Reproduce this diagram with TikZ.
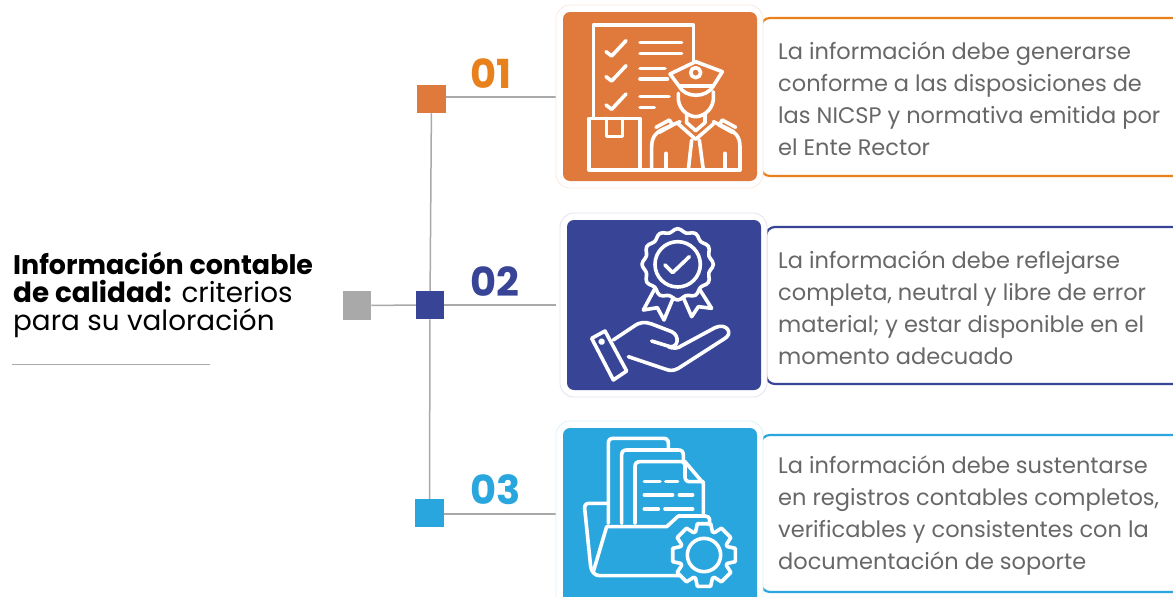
\documentclass[tikz,border=0pt]{standalone}
\usepackage{fontspec}
\setmainfont{Poppins}
\definecolor{cOr}{HTML}{E07A3C}
\definecolor{cOrT}{HTML}{E8801C}
\definecolor{cBl}{HTML}{384596}
\definecolor{cSk}{HTML}{29A6DE}
\definecolor{cGr}{HTML}{A9A9A9}
\definecolor{cTx}{HTML}{676767}
\tikzset{
  sq/.style={draw=none,minimum size=28.5pt,inner sep=0pt,outer sep=0pt,fill=#1},
  link/.style={draw=cGr,line width=1.5pt},
  num/.style={font=\fontsize{40}{40}\selectfont\bfseries,text=#1,anchor=base west,inner sep=0pt},
  body/.style={font=\fontsize{22.5}{32}\selectfont,text=cTx,anchor=base west,inner sep=0pt,align=left},
  ico/.style={draw=white,line width=3.6pt,line cap=round,line join=round},
  tile/.style={fill=#1,draw=none,rounded corners=7pt},
  halo/.style={fill=white,draw=#1!15,line width=0.8pt,rounded corners=14pt},
  card/.style={draw=#1,line width=2.2pt,rounded corners=9pt},
  zoomed/.style={x=0.33333pt,y=-0.33333pt,shift={#1}}
}
\begin{document}
\begin{tikzpicture}[x=1pt,y=-1pt]
\useasboundingbox (0,0) rectangle (1173,597);
\fill[white] (0,0) rectangle (1173,597);
% squares
\node[sq=cGr] (g) at (357,305.5) {};
\node[sq=cOr] (a) at (431.5,99) {};
\node[sq=cBl] (b) at (430,305) {};
\node[sq=cSk] (c) at (429.5,513) {};
\coordinate (ae) at (556,97);
\coordinate (be) at (556,305);
\coordinate (ce) at (556,514);
\draw[link] (a) -- (b);
\draw[link] (b) -- (c);
\draw[link] (g) -- (b);
\draw[link] (a.east |- ae) -- (ae);
\draw[link] (b) -- (be);
\draw[link] (c.east |- ce) -- (ce);
% numbers
\node[num=cOrT] (n1) at (470,88.5) {01};
\node[num=cBl] (n2) at (470,296.5) {02};
\node[num=cSk] (n3) at (470,504.5) {03};
% title
\node[anchor=base west,inner sep=0pt,align=left,font=\fontsize{27.8}{28}\selectfont,text=black] (t) at (13,330)
 {{\fontsize{26.9}{28}\selectfont\textbf{Información contable}}\\\textbf{de calidad:} criterios\\para su valoración};
\coordinate (r1) at (12,364.5);
\coordinate (r2) at (210,364.5);
\draw[draw=cGr,line width=1pt] (r1) -- (r2);
% cards
\draw[card=cOrT] (1173,18) -- (761,18) -- (761,176) -- (1173,176);
\draw[card=cBl] (1173,227) -- (766,227) -- (766,384) -- (1173,384);
\draw[card=cSk] (1173,435) -- (761,435) -- (761,592) -- (1173,592);
% tiles
\draw[halo=cOr] (556,5) rectangle (763,188);
\fill[tile=cOr] (563,12) rectangle (757,181);
\draw[halo=cBl] (560,213) rectangle (767,397);
\fill[tile=cBl] (567,220) rectangle (761,390);
\draw[halo=cSk] (556,421) rectangle (763,612);
\fill[tile=cSk] (563,428) rectangle (757,610);
% icon 1
\begin{scope}[zoomed={(550pt,0pt)}]
\draw[ico] (130,350) -- (130,75) -- (430,75) -- (430,185);
\foreach \d in {0,75,160}
  \draw[ico] (168,155+\d) -- (185,168+\d) -- (228,122+\d);
\draw[ico] (270,128) -- (395,128) (270,160) -- (395,160) (270,205) -- (345,205) (270,237) -- (352,237) (270,290) -- (357,290) (270,322) -- (313,322);
\draw[ico] (117,355) rectangle (270,510);
\draw[ico] (170,355) -- (170,410) -- (218,410) -- (218,355);
\draw[ico] (117,510) -- (570,510);
\draw[ico] (360,222) -- (437,185) -- (517,215) -- (490,258) -- (387,258) -- cycle;
\draw[ico] (387,258) .. controls (405,295) and (470,295) .. (490,258);
\draw[ico] (437,218) circle[radius=15];
\draw[ico] (385,280) -- (385,300) .. controls (390,335) and (420,350) .. (437,350) .. controls (455,350) and (485,335) .. (490,300) -- (490,275);
\draw[ico] (410,342) -- (410,368) -- (437,392) -- (465,368) -- (465,342);
\draw[ico] (385,372) -- (437,418) -- (490,372);
\draw[ico] (425,420) -- (415,510) (448,420) -- (460,510);
\draw[ico] (305,510) -- (305,440) .. controls (305,410) and (320,395) .. (340,387) -- (390,365);
\draw[ico] (570,510) -- (570,440) .. controls (570,410) and (555,395) .. (535,387) -- (490,365);
\draw[ico] (318,382) -- (358,360) -- (368,375) -- (328,397);
\draw[ico] (557,382) -- (517,360) -- (507,375) -- (547,397);
\draw[ico] (348,460) -- (348,510) (525,460) -- (525,510);
\end{scope}
% icon 2
\begin{scope}[zoomed={(550pt,-205pt)}]
\draw[ico] plot[smooth cycle,samples=72,domain=0:355,variable=\t] ({383+(102+5*cos(12*\t))*cos(\t)},{178+(102+5*cos(12*\t))*sin(\t)});
\draw[ico] (383,178) circle[radius=68];
\draw[ico] (345,180) -- (368,203) -- (418,155);
\draw[ico] (315,250) -- (280,315) -- (322,308) -- (342,345) -- (370,278);
\draw[ico] (450,255) -- (485,310) -- (445,305) -- (425,335) -- (400,278);
\draw[ico] (125,400) -- (165,378) -- (230,498) -- (190,525) -- cycle;
\draw[ico] (155,410) circle[radius=5];
\draw[ico] (190,405) -- (250,365) .. controls (270,350) and (285,350) .. (305,357) -- (365,380) .. controls (390,392) and (385,428) .. (360,425) -- (305,408);
\draw[ico] (355,425) .. controls (370,432) and (385,430) .. (395,422) -- (495,368) .. controls (530,352) and (550,385) .. (525,400) -- (385,490) .. controls (370,498) and (360,498) .. (345,492) -- (235,455);
\end{scope}
% icon 3
\begin{scope}[zoomed={(550pt,-415pt)}]
\draw[ico] (175,325) -- (175,85) .. controls (175,75) and (180,70) .. (190,70) -- (340,70) .. controls (350,70) and (355,75) .. (355,85) -- (355,100);
\draw[ico] (215,325) -- (215,120) .. controls (215,110) and (220,105) .. (230,105) -- (385,105) .. controls (395,105) and (400,110) .. (400,120) -- (400,145);
\draw[ico] (255,325) -- (255,155) .. controls (255,145) and (260,140) .. (270,140) -- (405,140) -- (460,205) -- (460,295);
\draw[ico] (405,140) -- (405,185) .. controls (405,195) and (410,200) .. (420,200) -- (460,200);
\draw[ico] (283,200) -- (330,200) (347,200) -- (383,200) (283,240) -- (368,240) (388,240) -- (428,240) (283,282) -- (325,282) (345,282) -- (428,282);
\draw[ico] (170,265) -- (118,265) .. controls (108,265) and (103,270) .. (104,280) -- (122,455) .. controls (125,472) and (135,482) .. (150,482) -- (390,482);
\draw[ico] (130,470) -- (170,335) -- (350,335) -- (385,303) -- (465,303) .. controls (480,303) and (483,318) .. (475,328);
\draw[ico] (462,420) circle[radius=50];
\begin{scope}[shift={(462,420)}]
\draw[ico] (-12:96) -- (12:96) -- (20:74) -- (25:74) -- (33:96) -- (57:96) -- (65:74) -- (70:74) -- (78:96) -- (102:96) -- (110:74) -- (115:74) -- (123:96) -- (147:96) -- (155:74) -- (160:74) -- (168:96) -- (192:96) -- (200:74) -- (205:74) -- (213:96) -- (237:96) -- (245:74) -- (250:74) -- (258:96) -- (282:96) -- (290:74) -- (295:74) -- (303:96) -- (327:96) -- (335:74) -- (340:74) -- cycle;
\end{scope}
\end{scope}
% texts
\node[body] (x1) at (778,155) {La información debe generarse\\conforme a las disposiciones de\\las NICSP y normativa emitida por\\el Ente Rector};
\node[body] (x2) at (778,364) {La información debe reflejarse\\completa, neutral y libre de error\\material; y estar disponible en el\\momento adecuado};
\node[body] (x3) at (778,569) {La información debe sustentarse\\en registros contables completos,\\verificables y consistentes con la\\documentación de soporte};
\end{tikzpicture}
\end{document}
